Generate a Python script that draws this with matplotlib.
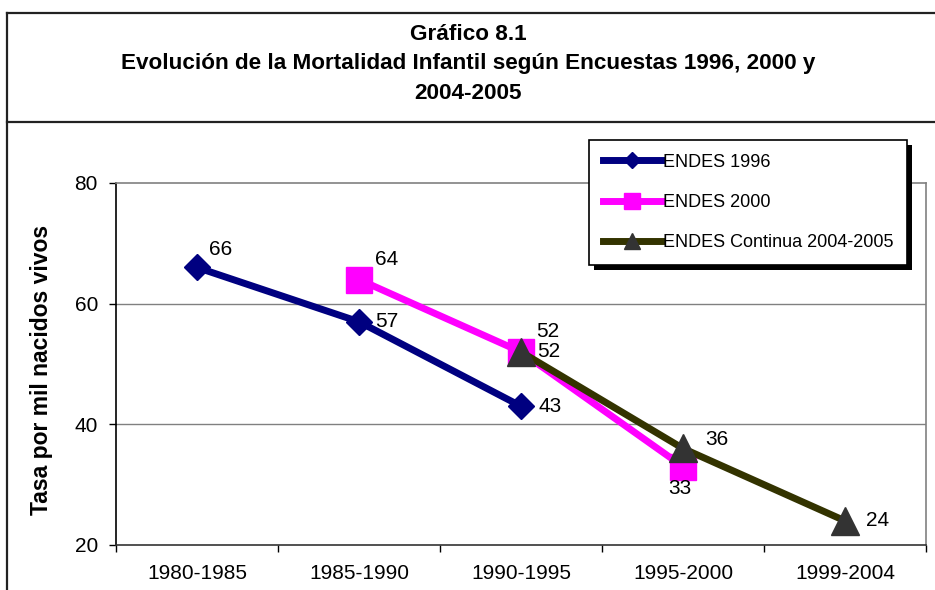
import matplotlib
matplotlib.use("Agg")
import matplotlib.pyplot as plt
import numpy as np
from matplotlib.lines import Line2D
from matplotlib.patches import Rectangle
from matplotlib.transforms import IdentityTransform

plt.rcParams['font.family'] = ['Liberation Sans', 'DejaVu Sans']

# data
periodos = ["1980-1985", "1985-1990", "1990-1995", "1995-2000", "1999-2004"]
endes_1996 = [66, 57, 43, np.nan, np.nan]
endes_2000 = [np.nan, 64, 52, 33, np.nan]
endes_continua = [np.nan, np.nan, 52, 36, 24]
series_names = ["ENDES 1996", "ENDES 2000", "ENDES Continua 2004-2005"]
y_ticks = [20, 40, 60, 80]
title_lines = ["Gráfico 8.1",
               "Evolución de la Mortalidad Infantil según Encuestas 1996, 2000 y",
               "2004-2005"]
y_label = "Tasa por mil nacidos vivos"

W, H = 935, 590
fig = plt.figure(figsize=(W / 100, H / 100), dpi=100)
fig.patch.set_facecolor("white")

# axes in pixel terms: left 116, right 926, top 183, bottom 545
ax = fig.add_axes([116 / W, (H - 545) / H, (926 - 116) / W, (545 - 183) / H])

x = np.arange(len(periodos))
styles = [
    dict(color="#000080", marker="D", ms=13.5, mfc="#000080", mec="#000080"),
    dict(color="#FF00FF", marker="s", ms=19, mfc="#FF00FF", mec="#FF00FF"),
    dict(color="#333300", marker="^", ms=20, mfc="#333333", mec="#333333"),
]
all_series = [endes_1996, endes_2000, endes_continua]
handles = []
for vals, st, name in zip(all_series, styles, series_names):
    ln, = ax.plot(x, vals, lw=5, label=name, zorder=3, **st)
    handles.append(ln)

# data labels (offsets in px, converted to points)
offsets = [
    [(24, 18), (28, 0), (29, 0), None, None],
    [None, (28, 20), (27, 20), (-3, -22), None],
    [None, None, (28, 0), (34, 9), (33, 0)],
]
for vals, offs in zip(all_series, offsets):
    for i, (v, o) in enumerate(zip(vals, offs)):
        if o is None or np.isnan(v):
            continue
        ax.annotate(f"{v:g}", (x[i], v), xytext=(o[0] * 0.72, o[1] * 0.72),
                    textcoords="offset points", ha="center", va="center",
                    fontsize=15, zorder=4)

ax.set_xlim(-0.5, len(periodos) - 0.5)
ax.set_ylim(20, 80)
ax.set_yticks(y_ticks)
ax.set_xticks(x)
ax.set_xticklabels(periodos)
ax.set_xticks(np.arange(-0.5, len(periodos), 1), minor=True)
ax.tick_params(axis="x", which="major", length=0, pad=14, labelsize=15)
ax.tick_params(axis="x", which="minor", length=5, width=1, color="black", direction="out")
ax.tick_params(axis="y", length=5, width=1, pad=8, labelsize=15, direction="out")

for yv in [40, 60]:
    ax.axhline(yv, color="#808080", lw=1, zorder=1)
ax.spines["top"].set_color("#808080")
ax.spines["right"].set_color("#808080")
ax.spines["left"].set_color("black")
ax.spines["bottom"].set_color("#333333")
for s in ax.spines.values():
    s.set_linewidth(1.2)

ax.set_ylabel(y_label, fontsize=16.5, fontweight="bold")
ax.yaxis.set_label_coords((53 - 116) / 810, 0.483)

leg = ax.legend(handles=handles, loc="upper left",
                bbox_to_anchor=((589 - 116) / 810, (H - 140 - 45) / 362),
                borderaxespad=0, fontsize=13, handlelength=3.3, handletextpad=0.05,
                labelspacing=1.3, borderpad=0.75, fancybox=False, framealpha=1,
                edgecolor="black", markerscale=0.6)
leg.get_frame().set_linewidth(1.2)
leg.set_zorder(6)

# title texts
title_y = [35, 63, 93]
for t, yy in zip(title_lines, title_y):
    fig.text(468 / W, 1 - yy / H, t, ha="center", va="center", fontsize=16.2,
             fontweight="bold")

# outer frame lines
lc = "#222222"
fig.add_artist(Line2D([7 / W, 1], [1 - 13 / H, 1 - 13 / H], color=lc, lw=1.6))
fig.add_artist(Line2D([7 / W, 7 / W], [0, 1 - 13 / H], color=lc, lw=1.6))
fig.add_artist(Line2D([7 / W, 1], [1 - 122 / H, 1 - 122 / H], color=lc, lw=1.6))

# legend drop shadow
fig.canvas.draw()
bb = leg.get_window_extent()
shadow = Rectangle((bb.x0 + 5, bb.y0 - 5), bb.width, bb.height, transform=IdentityTransform(),
                   facecolor="black", edgecolor="none", zorder=5.5, clip_on=False)
ax.add_artist(shadow)

fig.savefig("out.png", dpi=100, facecolor="white")
